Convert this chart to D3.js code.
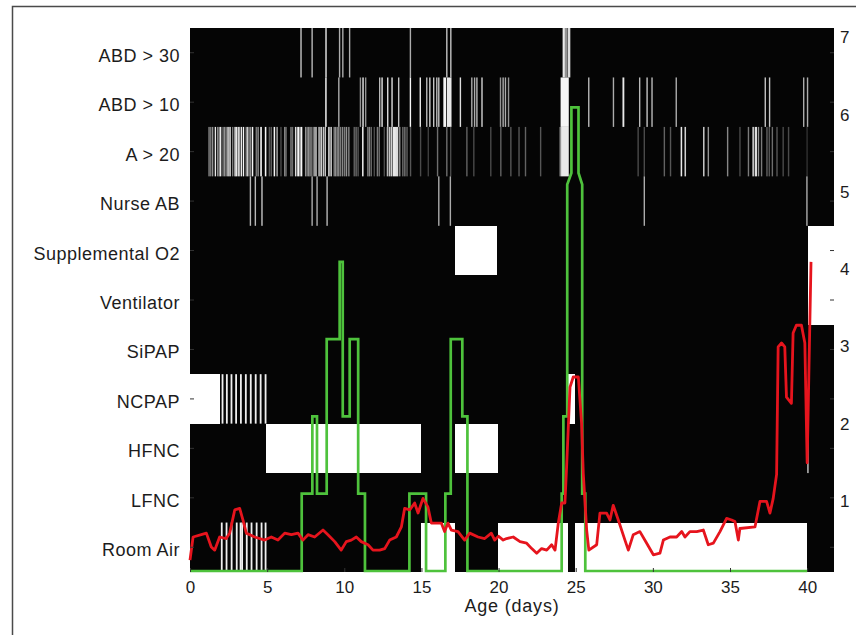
<!DOCTYPE html>
<html><head><meta charset="utf-8">
<script src="https://cdn.jsdelivr.net/npm/d3@7/dist/d3.min.js"></script>
<style>
body{margin:0;background:#fff;}
svg{display:block;}
text{font-family:"Liberation Sans",Arial,Helvetica,sans-serif;fill:#1c1c1c;}
</style>
</head><body>
<svg id="chart" width="856" height="635"></svg>
<script>
// ---------------- data ----------------
const categories = ["ABD > 30","ABD > 10","A > 20","Nurse AB","Supplemental O2","Ventilator","SiPAP","NCPAP","HFNC","LFNC","Room Air"];
const xTicks = [0,5,10,15,20,25,30,35,40];
const rightTicks = [1,2,3,4,5,6,7];

// respiratory support periods: [category, startDay, endDay]
const supportBlocks = [
  ["Supplemental O2",17.17,19.88],["Supplemental O2",40.07,41.74],["Ventilator",40.07,41.74],
  ["NCPAP",0,1.95],["NCPAP",24.5,24.95],
  ["HFNC",4.93,14.95],["HFNC",17.17,19.98],
  ["Room Air",14.95,17.17],["Room Air",19.98,24.5],["Room Air",24.97,39.98]
];
// intermittent support changes (days)
const ncpapStripes = [2.05,2.33,2.63,2.93,3.24,3.56,3.88,4.2,4.52,4.84];
const roomAirStripes = [2.0,2.31,2.64,2.97,3.22,3.32,3.62,3.93,4.26,4.58,4.84];
const hfncMarks = [[40.0,40.1,0.75]];

// events: [startDay, endDay, intensity]
const abd30Events = [[7.15,7.2,.8],[7.87,7.92,.75],[8.77,8.86,.95],[9.65,9.7,.7],[9.86,9.92,.7],[10.3,10.35,.7],
  [14.24,14.29,.7],[16.6,16.65,.8],[16.86,16.92,.8],[24.15,24.3,.95],[24.3,24.48,.6],[24.5,24.65,.9]];
const abd10Events = [[8.76,8.86,.95],[9.6,9.64,.7],[11.0,11.04,.6],[11.17,11.22,.95],[11.34,11.38,.6],[12.25,12.3,.75],
  [12.4,12.5,.85],[12.77,12.82,.9],[13.05,13.1,.9],[13.48,13.53,.8],[14.24,14.3,1],[14.88,14.93,.95],[15.3,15.35,.75],
  [15.5,15.58,.85],[15.75,15.8,.8],[15.95,16.0,.75],[16.08,16.12,.8],[16.42,16.6,1],[16.65,16.95,.95],[17.48,17.53,.9],
  [18.22,18.28,.7],[18.4,18.45,.7],[18.55,18.6,.75],[18.88,18.93,.85],[20.08,20.13,.6],[20.25,20.3,.7],[20.4,20.45,.7],
  [20.6,20.65,.6],[24.02,24.55,1],[25.8,25.84,.75],[27.4,27.45,.7],[28.03,28.15,.95],[29.1,29.14,.75],[29.58,29.63,.8],
  [29.9,29.95,.75],[31.47,31.52,.7],[37.24,37.29,.8],[37.52,37.58,.8],[39.73,39.78,.7],[39.98,40.03,.7]];
const a20Events = [[1.19,1.22,.55],[1.3,1.33,.5],[1.42,1.45,.6],[1.6,1.66,.95],[1.75,1.78,.55],[1.85,1.88,.6],[1.94,2.0,.95],
  [2.1,2.13,.5],[2.2,2.24,.6],[2.3,2.33,.5],[2.42,2.47,1],[2.55,2.6,1],[2.72,2.75,.5],[2.85,2.88,.6],[2.93,3.08,.95],
  [3.12,3.22,1],[3.28,3.35,.95],[3.42,3.5,1],[3.6,3.64,.6],[3.7,3.78,.9],[3.85,3.9,.7],[4.0,4.1,1],[4.25,4.28,.5],
  [4.37,4.4,.6],[4.55,4.66,.95],[4.85,4.95,1],[5.1,5.13,.35],[5.22,5.25,.4],[5.42,5.52,1],[5.6,5.64,.7],[5.85,5.88,.3],
  [6.1,6.14,.6],[6.18,6.21,.45],[6.5,6.54,.55],[6.6,6.63,.45],[6.8,6.9,.9],[6.95,7.1,1],[7.15,7.28,1],[7.45,7.48,.6],
  [7.55,7.59,.5],[7.65,7.68,.6],[7.74,7.78,.55],[7.85,7.88,.5],[8.0,8.06,.75],[8.12,8.2,.9],[8.32,8.4,.85],[8.45,8.55,.9],
  [8.6,8.66,.8],[8.72,8.8,.85],[8.96,9.04,1],[9.1,9.18,.95],[9.3,9.33,.55],[9.4,9.44,.6],[9.5,9.54,.5],[9.6,9.64,.6],
  [9.72,9.76,.5],[9.85,9.9,.55],[9.98,10.02,.5],[10.1,10.14,.6],[10.25,10.3,.55],[10.6,10.63,.4],[10.72,10.75,.45],
  [10.85,10.88,.35],[11.15,11.25,.95],[11.48,11.51,.5],[11.58,11.62,.55],[11.7,11.73,.45],[11.9,11.93,.3],[12.1,12.13,.5],
  [12.22,12.25,.45],[12.55,12.58,.3],[12.75,12.85,.75],[12.88,12.98,.8],[13.0,13.12,.85],[13.15,13.35,.95],[13.35,13.5,.9],
  [13.55,13.6,.6],[13.75,13.78,.45],[13.88,13.92,.5],[14.02,14.05,.4],[14.25,14.28,.35],[14.9,14.93,.3],[15.4,15.43,.25],
  [16.0,16.03,.45],[16.6,16.63,.45],[16.85,16.88,.3],[17.9,17.93,.4],[18.35,18.38,.3],[19.45,19.48,.3],[20.1,20.13,.4],
  [20.75,20.78,.35],[21.28,21.31,.35],[21.7,21.73,.4],[22.68,22.71,.35],[23.95,24.05,.6],[24.05,24.55,.95],[29.0,29.03,.3],
  [29.4,29.43,.3],[30.7,30.73,.4],[31.1,31.13,.35],[31.8,31.9,.95],[32.05,32.15,.85],[33.25,33.35,.8],[33.55,33.62,.6],
  [34.8,34.85,.55],[35.6,35.63,.3],[36.15,36.2,.5],[36.45,36.55,.85],[36.6,36.75,.9],[36.8,36.85,.6],[37.0,37.05,.5],
  [37.35,37.4,.4],[37.5,37.55,.35],[37.7,37.75,.45],[38.0,38.05,.35],[38.4,38.45,.3],[38.75,38.8,.3],[39.95,40.0,.2]];
const nurseEvents = [[3.87,3.91,.75],[4.19,4.23,.75],[4.62,4.66,.8],[7.87,7.91,.7],[8.19,8.23,.7],[8.84,8.88,.75],
  [16.08,16.12,.7],[16.83,16.87,.7],[29.4,29.44,.7],[39.94,39.98,.7]];

// support level (green) : day / level
const greenDays =   [0,7.24,7.24,7.93,7.93,8.23,8.23,8.86,8.86,9.7,9.7,9.9,9.9,10.35,10.35,10.9,10.9,11.34,11.34,
  14.22,14.22,15.3,15.3,16.55,16.55,16.9,16.9,17.65,17.65,17.98,17.98,
  24.09,24.09,24.2,24.2,24.45,24.45,24.72,24.72,25.18,25.18,25.42,25.42,25.62,25.62,40.0];
const greenLevels = [0,0,1,1,2,2,1,1,3,3,4,4,2,2,3,3,1,1,0,
  0,1,1,0,0,1,1,3,3,2,2,0,
  0,1,1,2,2,5,5.15,6,6,5.15,5,1,1,0,0];

// score (red) : day / value
const redDays = [0,0.2,0.73,1.06,1.38,1.6,1.92,2.35,2.57,2.9,3.22,3.43,3.65,4.19,4.84,5.27,5.7,6.14,6.57,7.0,7.32,7.65,
  8.08,8.62,8.94,9.38,9.8,10.13,10.45,10.78,11.1,11.54,11.86,12.29,12.62,12.94,13.37,13.7,13.91,14.24,14.56,14.78,15.1,
  15.42,15.64,16.29,16.5,16.72,16.94,17.37,17.8,18.13,18.67,19.1,19.53,19.75,20.0,20.3,20.52,20.95,21.39,21.82,22.15,
  22.47,22.79,23.12,23.44,23.66,23.87,24.09,24.3,24.41,24.63,24.84,25.17,25.38,25.49,25.71,25.85,26.36,26.57,27.0,
  27.22,27.43,27.76,28.19,28.41,28.73,29.16,29.6,30.03,30.46,30.68,31.11,31.54,31.87,32.08,32.4,32.84,33.27,33.59,
  33.92,34.35,34.78,35.11,35.32,35.54,35.64,36.62,36.94,37.37,37.59,37.8,38.02,38.12,38.34,38.55,38.66,38.98,39.09,
  39.3,39.63,39.85,40.0,40.25];
const redValues = [0.14,0.44,0.47,0.49,0.31,0.27,0.44,0.42,0.49,0.79,0.81,0.66,0.49,0.44,0.40,0.44,0.40,0.49,0.47,0.49,
  0.40,0.47,0.44,0.53,0.47,0.38,0.27,0.38,0.40,0.44,0.38,0.34,0.27,0.27,0.29,0.40,0.44,0.57,0.81,0.79,0.88,0.75,0.94,
  0.83,0.62,0.62,0.51,0.62,0.53,0.51,0.40,0.49,0.44,0.42,0.49,0.40,0.45,0.40,0.42,0.44,0.38,0.36,0.29,0.23,0.29,0.27,
  0.34,0.27,0.62,0.88,0.88,1.35,2.38,2.51,2.51,1.91,1.26,0.53,0.27,0.34,0.75,0.75,0.66,0.85,0.66,0.40,0.27,0.47,0.51,
  0.36,0.21,0.23,0.40,0.44,0.44,0.51,0.44,0.51,0.51,0.53,0.34,0.36,0.51,0.68,0.66,0.64,0.40,0.55,0.57,0.90,0.90,0.75,
  0.94,1.25,2.9,2.95,2.9,2.25,2.17,3.08,3.18,3.18,2.95,1.4,4.0];

// ---------------- drawing ----------------
const svg = d3.select("#chart");
const L = 190, R = 834, T = 28, B = 572;

svg.append("rect").attr("x",12.5).attr("y",6.5).attr("width",900).attr("height",700)
  .attr("fill","none").attr("stroke","#4a4a4a").attr("stroke-width",1.5);

const x = d3.scaleLinear().domain([0,41.74]).range([L,R]);
const yBand = d3.scaleBand().domain(categories).range([T,B]).padding(0);
const yR = d3.scaleLinear().domain([0,7]).range([571,30]);

const plot = svg.append("g");
plot.append("rect").attr("x",L).attr("y",T).attr("width",R-L).attr("height",B-T).attr("fill","#050505");

plot.selectAll("rect.blk").data(supportBlocks).join("rect").attr("class","blk")
  .attr("x",d=>x(d[1])).attr("width",d=>x(d[2])-x(d[1]))
  .attr("y",d=>yBand(d[0])).attr("height",yBand.bandwidth()).attr("fill","#ffffff")
  .attr("shape-rendering","crispEdges");

function stripes(days, cat, w){
  plot.append("g").selectAll("rect").data(days).join("rect")
    .attr("x",d=>x(d)).attr("width",w).attr("y",yBand(cat)).attr("height",yBand.bandwidth())
    .attr("fill","#f0f0f0");
}
stripes(ncpapStripes,"NCPAP",1.8);
stripes(roomAirStripes,"Room Air",1.8);

function events(list, cat){
  plot.append("g").selectAll("rect").data(list).join("rect")
    .attr("x",d=>x(d[0])).attr("width",d=>Math.max(1.4,x(d[1])-x(d[0])))
    .attr("y",yBand(cat)).attr("height",yBand.bandwidth())
    .attr("fill",d=>{const v=Math.round(245*d[2]); return d3.rgb(v,v,v);});
}
events(abd30Events,"ABD > 30");
events(abd10Events,"ABD > 10");
events(a20Events,"A > 20");
events(nurseEvents,"Nurse AB");
events(hfncMarks,"HFNC");

const greenPts = greenDays.map((d,i)=>[d,greenLevels[i]]);
const redPts = redDays.map((d,i)=>[d,redValues[i]]);
const line = d3.line().x(d=>x(d[0])).y(d=>yR(d[1]));
plot.append("path").attr("d",line(greenPts)).attr("fill","none")
  .attr("stroke","#4ec23c").attr("stroke-width",2.7).attr("stroke-linejoin","miter");
plot.append("path").attr("d",line(redPts)).attr("fill","none")
  .attr("stroke","#e6141d").attr("stroke-width",2.8).attr("stroke-linejoin","round");

// axes
const fs = 17;
const xAxis = svg.append("g").attr("transform",`translate(0,${B})`)
  .call(d3.axisBottom(x).tickValues(xTicks).tickSizeInner(-4).tickSizeOuter(0).tickPadding(9));
xAxis.select(".domain").remove();
xAxis.selectAll("line").attr("stroke","#333");
xAxis.selectAll("text").attr("font-size",fs).attr("fill","#1c1c1c");

const yAxis = svg.append("g").attr("transform",`translate(${L},0)`)
  .call(d3.axisLeft(yBand).tickSizeInner(-4).tickSizeOuter(0).tickPadding(10));
yAxis.select(".domain").remove();
yAxis.selectAll("line").attr("stroke","#333");
yAxis.selectAll("text").attr("font-size",18).attr("letter-spacing","0.5px").attr("fill","#1c1c1c").attr("dy","0.5em");

const yAxis2 = svg.append("g").attr("transform",`translate(${R},0)`)
  .call(d3.axisLeft(yBand).tickSizeInner(4).tickSizeOuter(0).tickFormat(""));
yAxis2.select(".domain").remove();
yAxis2.selectAll("line").attr("stroke","#333");

const rAxis = svg.append("g").attr("transform",`translate(${R},0)`)
  .call(d3.axisRight(yR).tickValues(rightTicks).tickFormat(d3.format("d")).tickSizeInner(0).tickSizeOuter(0).tickPadding(6));
rAxis.select(".domain").remove();
rAxis.selectAll("text").attr("font-size",fs).attr("fill","#1c1c1c").attr("dy","0.75em");

svg.append("text").attr("x",(L+R)/2).attr("y",612).attr("text-anchor","middle")
  .attr("font-size",18).attr("letter-spacing","0.8px").text("Age (days)");
</script>
</body></html>
